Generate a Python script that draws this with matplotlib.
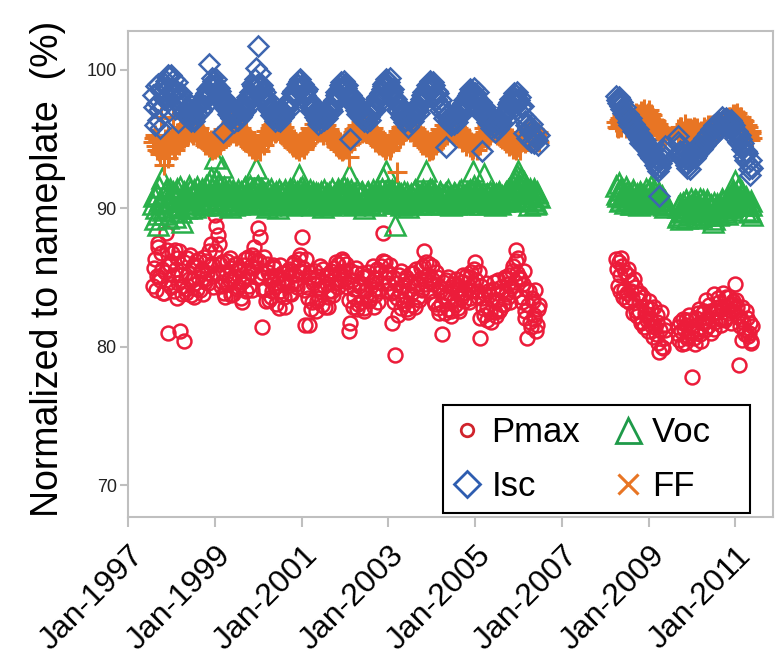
import numpy as np
import pandas as pd
import matplotlib
matplotlib.use('Agg')
import matplotlib.pyplot as plt
import matplotlib.dates as mdates
from matplotlib.lines import Line2D
from matplotlib.transforms import ScaledTranslation

# measurement dates: two readings a month (1st/15th and a week later), three periods
dates_a = pd.date_range('1997-08-01', '2006-06-16', freq='SMS')
dates_b = pd.date_range('2008-04-01', '2009-05-16', freq='SMS')
dates_c = pd.date_range('2009-09-01', '2011-05-16', freq='SMS')
week = pd.Timedelta(days=7)

# values, % of nameplate (one line per calendar year)
pmax_a = [84.4, 86.3, 85.1, 87.5, 84.8, 85.6, 83.9, 88.2, 81.0, 86.0,
          84.3, 85.2, 87.0, 86.4, 84.6, 81.1, 83.8, 80.4, 84.2, 86.4, 84.9, 83.7, 85.8, 84.5, 86.2, 85.0, 84.1, 85.6, 86.5, 84.7, 85.3, 86.9, 87.4, 85.1,
          89.5, 88.7, 88.1, 86.0, 84.7, 85.4, 83.6, 86.2, 84.9, 85.7, 83.8, 85.1, 86.0, 84.3, 85.5, 83.2, 84.8, 86.3, 85.1, 84.4, 85.8, 86.6, 87.2, 86.1,
          88.6, 87.9, 81.4, 85.3, 84.2, 86.0, 83.4, 85.1, 84.0, 85.7, 83.1, 84.6, 85.9, 83.7, 84.9, 82.9, 84.4, 85.6, 83.8, 85.2, 86.1, 84.5, 85.8, 86.3,
          87.9, 85.7, 81.6, 84.3, 81.6, 85.4, 83.2, 84.8, 82.6, 85.1, 83.5, 84.2, 85.6, 82.9, 84.5, 83.6, 85.2, 84.0, 85.7, 84.6, 86.0, 85.3, 84.8, 86.2,
          85.5, 84.3, 81.1, 81.7, 84.8, 83.6, 85.3, 82.7, 84.4, 83.2, 85.0, 82.8, 84.1, 85.4, 83.5, 84.7, 82.9, 84.2, 85.6, 84.0, 85.8, 88.2, 86.1, 85.4,
          84.6, 85.9, 81.7, 84.0, 79.4, 83.5, 85.2, 82.8, 84.3, 83.1, 85.0, 82.5, 84.6, 83.8, 85.3, 82.9, 84.5, 83.4, 85.7, 84.1, 86.9, 86.1, 85.2, 84.7,
          85.8, 84.5, 83.1, 85.0, 82.4, 84.3, 80.9, 83.6, 84.8, 82.7, 83.9, 82.2, 84.5, 83.0, 84.1, 82.6, 83.8, 84.7, 83.3, 85.1, 84.2, 83.5, 85.4, 84.6,
          86.1, 84.0, 85.4, 80.6, 83.5, 82.3, 84.6, 82.9, 83.7, 81.8, 84.2, 82.5, 83.4, 84.8, 82.7, 84.0, 83.1, 84.9, 83.6, 85.2, 84.4, 85.8, 84.7, 87.0,
          86.4, 84.9, 83.2, 85.5, 82.6, 80.6, 84.0, 81.4, 83.3, 82.0, 81.1, 82.7]
pmax_a2 = [85.7, 84.1, 87.2, 85.0, 86.8, 83.9, 85.4, 87.0, 84.6, 85.9,
           86.8, 84.0, 85.6, 83.5, 86.9, 85.2, 84.4, 86.1, 83.9, 85.3, 86.6, 84.8, 83.6, 85.9, 84.2, 86.3, 85.5, 83.8, 84.9, 86.2, 84.6, 85.8, 86.0, 84.3,
           86.9, 85.3, 87.4, 84.4, 86.1, 83.9, 85.2, 84.5, 86.4, 83.7, 84.9, 86.0, 84.2, 85.6, 83.5, 84.7, 85.9, 84.0, 86.5, 85.3, 84.1, 85.7, 86.4, 85.0,
           86.2, 85.0, 84.1, 86.5, 83.3, 85.4, 84.8, 83.6, 85.9, 84.3, 85.1, 82.8, 84.0, 85.3, 83.6, 84.8, 85.5, 83.9, 84.6, 86.0, 85.2, 84.3, 85.5, 86.6,
           85.4, 84.1, 86.3, 83.5, 85.0, 82.7, 84.6, 85.5, 83.3, 84.2, 85.8, 83.0, 84.4, 85.2, 82.9, 84.0, 85.5, 83.7, 84.9, 86.1, 84.3, 85.4, 86.3, 84.9,
           86.0, 84.7, 83.4, 85.5, 82.9, 84.2, 85.7, 83.1, 84.6, 85.3, 82.6, 84.0, 85.1, 83.3, 84.4, 85.8, 83.7, 84.9, 83.2, 85.4, 84.6, 86.2, 85.0, 84.1,
           85.3, 83.9, 85.0, 83.2, 84.6, 82.3, 84.0, 85.5, 83.4, 84.8, 82.7, 84.1, 85.3, 83.0, 84.4, 85.6, 83.6, 84.9, 84.2, 85.8, 84.5, 85.2, 86.0, 84.0,
           84.9, 83.3, 85.4, 82.8, 84.0, 83.1, 84.7, 82.4, 83.9, 85.0, 82.6, 84.3, 83.4, 84.9, 82.8, 84.2, 83.5, 85.2, 83.9, 84.6, 83.2, 85.0, 84.0, 85.6,
           84.8, 83.6, 82.1, 84.4, 82.8, 83.8, 81.9, 84.0, 82.5, 83.4, 84.7, 82.2, 83.9, 82.6, 84.3, 83.0, 85.0, 83.8, 84.5, 83.2, 85.5, 84.0, 86.2, 85.3,
           85.0, 83.6, 84.5, 82.1, 84.2, 83.0, 81.8, 83.5, 82.3, 84.1, 81.6, 83.0]
pmax_b = [86.3, 84.4, 85.2, 86.4, 83.6, 85.4, 83.9, 85.6, 84.7, 83.5, 84.9, 82.6, 83.8, 82.6, 81.7, 83.6, 82.4, 81.9,
          83.3, 82.1, 81.5, 82.9, 80.9, 81.8, 79.6, 82.5, 79.9, 81.2]
pmax_b2 = [85.6, 86.1, 84.0, 85.8, 84.1, 83.4, 85.2, 83.2, 84.0, 82.4, 84.3, 82.2, 83.4, 83.9, 81.8, 81.4, 82.9, 81.1,
           81.9, 82.7, 80.7, 81.4, 82.3, 80.3, 81.2, 80.0, 81.6, 80.6]
pmax_c = [81.4, 80.5, 81.1, 82.0, 80.3, 81.6, 80.8, 81.9,
          77.8, 80.6, 82.1, 81.3, 82.7, 80.4, 82.4, 81.7, 83.4, 81.5, 82.6, 82.0, 83.8, 81.8, 82.5, 83.2, 81.6, 82.8, 81.9, 83.6, 82.4, 83.0, 82.6, 83.3,
          84.5, 82.9, 78.7, 82.0, 80.5, 81.3, 82.6, 80.8, 81.7, 80.4]
pmax_c2 = [80.9, 81.8, 80.2, 81.3, 81.9, 80.6, 82.3, 81.1,
           81.5, 80.2, 81.0, 82.4, 80.9, 81.8, 82.6, 81.2, 82.1, 83.0, 81.0, 82.4, 81.3, 82.8, 83.5, 82.0, 82.7, 83.9, 82.1, 82.9, 83.6, 81.7, 83.1, 82.8,
           83.4, 82.2, 81.5, 82.9, 81.8, 80.9, 82.1, 81.0, 80.3, 81.5]

voc_a = [90.3, 89.2, 91.0, 88.8, 90.6, 92.2, 89.6, 91.3, 90.1, 90.8,
         90.5, 91.2, 89.4, 90.9, 90.2, 91.5, 89.0, 90.7, 91.1, 90.4, 91.6, 90.0, 90.8, 91.3, 90.3, 91.0, 90.6, 91.4, 90.2, 91.2, 90.7, 91.8, 92.2, 91.0,
         93.6, 92.1, 90.9, 91.5, 93.0, 90.6, 91.2, 90.3, 91.4, 90.5, 91.0, 90.2, 90.8, 91.3, 90.4, 91.1, 90.6, 91.5, 90.3, 90.9, 91.2, 90.5, 91.4, 92.9,
         91.6, 90.8, 91.3, 90.4, 91.0, 90.1, 90.7, 91.4, 90.3, 90.9, 91.2, 90.0, 90.6, 91.1, 90.4, 91.3, 90.5, 91.0, 90.2, 90.8, 91.3, 90.6, 91.1, 92.4,
         91.5, 90.6, 91.0, 90.3, 90.8, 91.3, 90.2, 90.9, 91.1, 90.4, 90.7, 91.2, 90.1, 90.8, 91.0, 90.3, 90.9, 91.4, 90.5, 90.8, 91.1, 90.4, 91.3, 90.7,
         90.9, 91.4, 92.4, 90.5, 91.0, 90.2, 90.8, 91.3, 90.4, 91.1, 90.6, 90.0, 90.7, 91.2, 90.3, 90.9, 91.0, 90.5, 91.3, 90.6, 90.9, 92.2, 91.2, 92.7,
         91.0, 90.6, 91.3, 90.4, 88.8, 90.9, 91.1, 90.2, 90.7, 91.2, 90.5, 90.1, 90.8, 91.0, 90.3, 91.3, 90.6, 90.9, 90.4, 91.1, 90.7, 92.7, 91.2, 90.8,
         91.3, 90.7, 91.0, 90.4, 90.9, 91.2, 90.3, 90.8, 91.1, 90.5, 90.9, 90.2, 90.7, 91.0, 90.4, 91.2, 90.6, 90.9, 90.3, 91.0, 90.7, 91.3, 90.5, 92.7,
         91.1, 90.6, 91.2, 90.3, 90.9, 92.5, 90.7, 91.0, 90.4, 90.8, 91.1, 90.2, 90.6, 91.0, 90.3, 90.9, 90.5, 91.2, 90.7, 91.4, 90.8, 91.6, 91.2, 92.1,
         92.7, 91.5, 90.8, 91.9, 90.5, 91.3, 90.2, 91.0, 90.6, 91.4, 90.4, 90.9]
voc_a2 = [90.9, 90.0, 89.6, 91.5, 90.4, 89.9, 91.1, 90.5, 89.3, 91.4,
          91.0, 89.8, 90.6, 91.4, 90.1, 89.7, 90.9, 91.2, 90.0, 90.7, 91.3, 90.4, 91.0, 90.1, 91.5, 90.6, 91.1, 90.3, 90.9, 91.6, 90.5, 91.0, 91.4, 90.7,
          91.3, 90.4, 91.8, 90.2, 91.0, 91.5, 90.6, 91.1, 90.1, 90.8, 91.3, 90.6, 91.0, 90.3, 91.2, 90.7, 91.4, 90.5, 91.0, 91.6, 90.4, 91.1, 90.8, 91.5,
          90.9, 91.4, 90.5, 91.1, 90.6, 91.3, 90.2, 90.8, 91.0, 90.5, 90.9, 91.3, 90.4, 90.8, 91.1, 90.3, 90.9, 91.4, 90.6, 91.0, 90.5, 91.2, 90.9, 91.4,
          90.8, 91.3, 90.5, 91.1, 90.4, 90.9, 91.2, 90.6, 90.3, 91.0, 90.5, 90.9, 91.3, 90.4, 90.7, 91.1, 90.2, 90.8, 91.0, 90.6, 91.4, 90.7, 90.9, 91.5,
          91.2, 90.6, 90.9, 91.3, 90.4, 91.0, 90.6, 90.3, 90.9, 91.2, 90.5, 90.8, 91.1, 90.4, 90.9, 91.3, 90.2, 90.7, 91.0, 90.8, 91.4, 90.6, 91.0, 91.3,
          90.7, 91.2, 90.4, 90.9, 91.3, 90.5, 90.8, 91.0, 90.3, 90.6, 91.1, 90.7, 90.4, 90.9, 91.2, 90.5, 91.0, 90.3, 90.8, 91.3, 90.6, 91.1, 90.9, 91.4,
          90.6, 91.1, 90.3, 90.8, 91.2, 90.5, 90.9, 91.0, 90.4, 91.3, 90.6, 90.8, 91.1, 90.3, 90.9, 90.6, 91.3, 90.4, 90.8, 91.1, 90.5, 90.9, 91.2, 91.6,
          90.8, 91.3, 90.5, 90.9, 91.1, 90.6, 90.3, 90.9, 91.2, 90.5, 90.8, 91.0, 90.4, 91.2, 90.7, 90.5, 91.0, 90.8, 91.3, 90.6, 91.1, 92.0, 91.5, 92.4,
          91.7, 92.2, 91.2, 90.7, 91.6, 90.9, 91.4, 90.6, 91.1, 90.3, 91.2, 90.8]
voc_b = [91.6, 90.9, 91.3, 90.6, 91.0, 90.4, 91.2, 90.7, 90.9, 90.3, 91.1, 90.5, 90.8, 90.2, 91.0, 90.6, 90.9, 90.4,
         91.3, 90.7, 91.1, 90.5, 91.5, 90.8, 91.0, 90.3, 90.7, 90.1]
voc_b2 = [91.0, 91.8, 90.5, 91.4, 90.8, 91.5, 90.6, 91.1, 90.3, 91.3, 90.7, 91.0, 90.4, 91.2, 90.6, 90.8, 91.4, 90.5,
          90.9, 91.6, 90.6, 91.2, 90.4, 91.0, 90.6, 90.9, 90.2, 90.5]
voc_c = [90.1, 89.5, 89.2, 90.4, 89.8, 90.6, 90.0, 89.6,
         90.3, 89.7, 90.5, 89.9, 90.2, 89.4, 90.6, 90.0, 89.8, 90.4, 89.5, 90.1, 89.2, 89.9, 90.3, 89.6, 90.0, 90.5, 89.7, 90.2, 90.8, 90.1, 90.6, 91.0,
         92.0, 90.9, 91.5, 90.6, 91.2, 90.3, 90.8, 90.2, 89.8, 90.5]
voc_c2 = [89.4, 90.3, 89.7, 89.9, 90.5, 89.3, 90.2, 90.7,
          89.9, 90.6, 89.3, 90.0, 90.7, 89.8, 89.5, 90.3, 90.6, 89.6, 90.2, 89.0, 90.4, 89.8, 89.5, 90.1, 90.7, 89.9, 90.4, 89.6, 90.1, 90.9, 91.3, 90.4,
          90.7, 91.4, 90.2, 91.0, 90.5, 89.9, 90.4, 89.7, 90.2, 89.5]

isc_a = [98.2, 96.0, 97.6, 99.0, 95.8, 98.4, 97.9, 99.2, 98.7, 99.5,
         99.6, 98.4, 97.2, 99.1, 96.2, 98.0, 97.6, 97.0, 97.8, 96.6, 97.1, 96.3, 97.0, 96.5, 97.4, 96.8, 97.6, 97.2, 98.1, 97.8, 98.6, 100.4, 98.9, 99.2,
         98.8, 99.3, 98.2, 98.5, 97.6, 95.5, 97.9, 97.1, 97.3, 96.6, 96.9, 96.2, 96.8, 96.4, 97.2, 96.7, 97.5, 97.0, 98.0, 97.4, 98.3, 99.0, 98.6, 100.1,
         101.7, 99.8, 98.9, 98.0, 98.4, 97.5, 97.8, 97.0, 97.3, 96.5, 96.9, 96.4, 96.7, 97.0, 96.6, 97.3, 97.5, 97.1, 97.9, 98.3, 98.1, 98.7, 98.9, 99.2,
         98.7, 99.0, 98.2, 98.6, 97.8, 97.3, 97.6, 96.9, 97.1, 96.4, 96.8, 96.2, 96.6, 96.9, 96.5, 97.1, 97.4, 97.0, 97.8, 98.2, 98.0, 98.6, 99.1, 98.8,
         99.0, 98.5, 98.3, 95.0, 97.9, 97.4, 97.6, 96.8, 97.2, 96.5, 96.9, 96.3, 96.7, 97.0, 96.4, 97.2, 97.5, 97.1, 98.0, 97.6, 98.4, 98.8, 99.1, 99.3,
         98.9, 99.4, 98.4, 98.0, 97.7, 97.2, 97.5, 96.6, 97.0, 96.2, 96.7, 95.9, 96.5, 96.8, 96.3, 97.0, 97.4, 96.9, 97.9, 98.2, 98.1, 98.6, 98.9, 99.2,
         98.8, 99.1, 98.2, 98.5, 97.6, 97.1, 97.3, 96.5, 94.4, 96.3, 96.6, 96.0, 96.4, 96.8, 96.2, 97.0, 97.3, 96.8, 97.8, 97.3, 98.2, 97.9, 98.4, 98.1,
         98.3, 97.8, 97.5, 96.9, 94.1, 97.1, 96.8, 96.2, 96.6, 95.8, 96.3, 95.5, 96.1, 95.7, 96.0, 96.6, 96.9, 96.4, 97.3, 97.7, 97.5, 98.0, 97.6, 98.2,
         97.6, 98.0, 96.8, 95.4, 96.3, 95.1, 95.7, 94.8, 95.3, 94.7, 95.0, 94.6]
isc_a2 = [97.3, 98.8, 96.4, 97.1, 98.6, 97.4, 99.0, 98.1, 99.6, 98.5,
          98.6, 99.3, 97.8, 98.5, 97.4, 98.3, 96.9, 97.5, 96.7, 97.3, 96.5, 96.9, 96.3, 97.1, 96.8, 97.5, 97.0, 97.8, 97.4, 98.3, 98.0, 98.8, 99.4, 98.7,
          99.0, 98.1, 98.7, 97.8, 98.0, 97.3, 97.6, 96.8, 97.0, 96.5, 96.6, 97.0, 96.4, 96.9, 96.6, 97.3, 97.1, 97.8, 97.6, 98.4, 98.1, 98.8, 99.3, 98.9,
          99.0, 98.5, 98.6, 97.7, 97.9, 97.2, 97.4, 96.7, 96.9, 96.3, 96.6, 96.9, 96.3, 96.8, 96.9, 97.5, 97.3, 97.9, 97.7, 98.5, 98.4, 99.0, 98.7, 99.3,
          98.9, 98.4, 98.5, 97.6, 97.8, 97.0, 97.3, 96.6, 96.9, 96.1, 96.5, 96.9, 96.4, 96.7, 96.8, 97.4, 97.2, 97.7, 97.6, 98.4, 98.3, 98.9, 98.6, 99.2,
          98.7, 98.9, 97.9, 98.2, 97.5, 97.9, 97.1, 97.4, 96.7, 96.9, 96.5, 96.8, 96.2, 96.6, 96.8, 97.3, 97.2, 97.9, 97.8, 98.3, 98.6, 99.0, 98.7, 98.9,
          99.1, 98.6, 98.6, 97.8, 97.9, 97.0, 97.3, 96.8, 96.8, 96.4, 96.5, 96.9, 96.2, 96.6, 96.7, 97.2, 97.1, 97.7, 97.6, 98.4, 98.4, 98.9, 98.6, 99.0,
          98.6, 98.9, 97.9, 98.3, 97.4, 97.8, 96.9, 97.1, 96.8, 96.5, 96.2, 96.7, 96.1, 96.6, 96.7, 97.2, 97.1, 97.6, 97.5, 98.0, 98.3, 98.6, 98.2, 98.7,
          98.0, 98.4, 97.2, 97.7, 96.8, 97.3, 96.5, 96.9, 96.1, 96.4, 95.9, 96.2, 95.8, 96.3, 96.2, 96.8, 96.7, 97.1, 97.5, 97.9, 97.8, 98.3, 97.9, 98.4,
          97.8, 97.3, 97.4, 96.6, 96.0, 95.8, 95.5, 96.1, 95.2, 95.6, 94.9, 95.3]
isc_b = [98.1, 97.6, 97.9, 97.2, 96.9, 97.3, 96.6, 96.2, 96.5, 95.9, 96.1, 95.4, 95.7, 95.0, 95.3, 94.6, 94.9, 94.2,
         94.5, 93.8, 94.1, 93.4, 93.7, 92.9, 90.9, 93.3, 93.9, 94.5]
isc_b2 = [97.8, 98.0, 97.4, 97.7, 97.0, 96.6, 96.8, 96.0, 96.3, 95.6, 95.8, 95.2, 95.4, 94.7, 95.0, 94.4, 94.6, 93.9,
          94.2, 93.6, 93.9, 93.1, 93.5, 92.7, 93.0, 93.6, 94.2, 93.7]
isc_c = [95.2, 94.6, 94.0, 93.5, 94.2, 93.1, 93.6, 92.8,
         93.6, 94.2, 93.8, 94.5, 94.1, 94.8, 94.4, 95.1, 94.7, 95.4, 95.0, 95.6, 95.3, 95.9, 95.5, 96.1, 95.8, 96.4, 96.0, 96.5, 96.1, 95.7, 96.2, 95.5,
         95.1, 95.6, 94.7, 95.0, 94.3, 93.8, 94.1, 93.3, 92.4, 93.0]
isc_c2 = [94.8, 94.1, 93.7, 93.9, 93.3, 92.9, 93.4, 93.9,
          94.0, 93.6, 94.3, 94.0, 94.6, 94.3, 95.0, 94.6, 95.3, 94.9, 95.7, 95.2, 96.0, 95.6, 96.2, 95.9, 96.6, 96.2, 96.3, 95.9, 95.8, 96.4, 95.9, 96.0,
          95.4, 94.8, 95.3, 94.5, 94.7, 93.5, 94.0, 92.8, 93.5, 92.9]

ff_a = [94.8, 95.3, 94.2, 95.0, 93.9, 94.6, 93.1, 94.4, 95.2, 94.0,
        94.6, 96.5, 94.2, 95.1, 94.8, 95.6, 95.0, 95.9, 95.4, 96.1, 95.5, 95.9, 95.3, 96.0, 95.6, 95.1, 95.4, 94.9, 95.2, 94.6, 95.0, 94.4, 94.9, 94.5,
        94.3, 94.9, 95.1, 94.6, 95.3, 95.7, 95.2, 95.9, 95.6, 96.2, 95.4, 95.8, 95.2, 95.9, 95.5, 95.0, 95.3, 94.8, 95.1, 94.5, 94.9, 94.3, 94.7, 94.2,
        94.6, 94.1, 94.8, 95.0, 95.3, 95.6, 95.4, 96.0, 95.6, 96.3, 95.5, 95.9, 95.4, 96.1, 95.6, 95.2, 95.4, 94.8, 95.1, 94.6, 95.0, 94.3, 94.7, 94.5,
        94.4, 94.9, 95.0, 94.7, 95.4, 95.8, 95.3, 96.1, 95.7, 96.3, 95.6, 96.0, 95.3, 95.8, 95.5, 95.1, 95.4, 94.9, 95.0, 94.5, 94.9, 94.3, 94.6, 94.2,
        94.5, 94.8, 93.7, 95.0, 95.3, 95.7, 95.4, 96.0, 95.6, 96.2, 95.5, 96.0, 95.4, 95.9, 95.6, 95.1, 95.3, 94.8, 95.2, 94.6, 94.9, 94.4, 94.7, 94.3,
        94.5, 94.2, 94.9, 95.1, 95.2, 92.6, 95.5, 95.9, 95.7, 96.4, 95.6, 96.0, 95.5, 96.1, 95.7, 95.2, 95.4, 94.9, 95.1, 94.6, 95.0, 94.4, 94.8, 94.3,
        94.6, 94.3, 95.0, 94.8, 95.4, 95.7, 95.3, 96.0, 95.8, 96.2, 95.5, 96.0, 95.4, 95.9, 95.5, 95.1, 95.3, 94.8, 95.0, 94.5, 94.9, 94.4, 94.8, 94.3,
        94.5, 94.2, 94.9, 95.2, 95.3, 95.8, 95.4, 96.0, 95.6, 96.3, 95.5, 95.9, 95.3, 95.8, 95.4, 95.0, 95.2, 94.7, 95.0, 94.5, 94.9, 94.3, 94.7, 94.4,
        94.6, 94.2, 94.9, 95.3, 95.1, 95.6, 95.4, 95.9, 95.2, 95.7, 95.0, 95.5]
ff_a2 = [95.1, 94.5, 94.9, 94.1, 96.6, 94.3, 95.0, 94.7, 93.6, 94.9,
         95.2, 94.3, 94.9, 95.4, 94.6, 95.2, 95.6, 95.1, 95.8, 95.3, 96.0, 95.4, 95.9, 95.5, 95.2, 95.8, 95.0, 95.3, 94.7, 95.1, 94.6, 94.8, 94.2, 94.7,
         94.7, 94.4, 94.8, 95.2, 94.9, 95.5, 95.1, 95.6, 95.3, 96.0, 95.6, 96.1, 95.7, 95.3, 95.8, 95.2, 94.9, 95.5, 94.7, 95.0, 94.5, 94.8, 94.1, 94.6,
         94.3, 94.7, 95.1, 94.6, 95.6, 95.1, 95.8, 95.2, 96.1, 95.4, 95.8, 96.2, 95.7, 95.3, 95.9, 95.0, 95.3, 94.7, 95.2, 94.4, 94.8, 94.5, 94.1, 94.8,
         94.7, 94.3, 94.6, 95.2, 95.0, 95.6, 95.1, 95.8, 95.4, 96.0, 95.5, 96.2, 95.7, 96.0, 95.4, 95.7, 95.2, 95.0, 94.7, 95.1, 94.4, 94.8, 94.1, 94.6,
         94.3, 94.6, 95.1, 94.7, 95.5, 95.0, 95.8, 95.2, 95.9, 95.4, 96.1, 95.6, 96.2, 95.7, 95.3, 95.8, 95.0, 95.4, 94.7, 95.0, 94.5, 94.9, 94.2, 94.6,
         94.7, 94.4, 94.7, 95.3, 94.9, 95.6, 95.1, 95.7, 95.3, 96.1, 95.8, 96.2, 95.6, 95.9, 95.4, 95.7, 95.1, 95.3, 94.8, 95.2, 94.6, 94.9, 94.1, 94.6,
         94.2, 94.8, 94.6, 95.2, 95.1, 95.5, 95.0, 95.7, 95.3, 95.9, 95.6, 96.1, 95.7, 95.3, 95.8, 95.2, 95.6, 94.9, 95.3, 94.7, 95.1, 94.6, 94.2, 94.7,
         94.7, 94.5, 94.6, 95.0, 95.1, 95.5, 95.0, 95.7, 95.3, 96.0, 95.7, 96.1, 95.6, 95.2, 95.7, 95.1, 95.5, 94.8, 95.3, 94.6, 95.1, 94.6, 94.2, 94.8,
         94.4, 94.8, 95.1, 94.7, 95.4, 94.9, 95.6, 95.1, 95.6, 94.9, 95.3, 94.8]
ff_b = [96.2, 95.8, 96.5, 95.9, 96.3, 96.7, 96.0, 96.4, 96.8, 96.1, 96.5, 96.9, 96.3, 96.6, 97.0, 96.4, 96.8, 96.2,
        97.1, 96.5, 96.7, 96.0, 96.3, 95.6, 95.9, 95.3, 95.6, 95.1]
ff_b2 = [95.9, 96.4, 96.0, 96.7, 96.2, 95.8, 96.6, 96.2, 96.9, 96.3, 96.7, 96.1, 96.8, 96.4, 96.6, 97.2, 96.5, 96.9,
         96.3, 96.8, 96.1, 96.4, 95.8, 96.1, 95.4, 95.8, 95.0, 95.4]
ff_c = [95.7, 95.2, 95.9, 95.4, 96.1, 95.6, 95.3, 95.8,
        95.4, 95.9, 95.2, 95.7, 95.1, 95.6, 95.3, 95.8, 95.5, 96.0, 95.4, 95.9, 95.6, 96.1, 95.7, 96.2, 95.8, 96.3, 95.9, 96.5, 96.1, 96.6, 96.3, 96.8,
        96.4, 96.9, 96.2, 96.6, 95.8, 96.3, 95.5, 95.9, 94.9, 95.4]
ff_c2 = [95.4, 95.9, 95.1, 95.6, 95.3, 95.8, 95.5, 95.2,
         95.7, 95.3, 95.8, 95.0, 95.5, 95.2, 95.9, 95.4, 95.7, 95.3, 96.0, 95.6, 95.9, 95.5, 96.3, 95.9, 96.0, 96.4, 96.2, 96.0, 96.6, 96.3, 96.7, 96.5,
         96.8, 96.3, 96.6, 96.1, 96.4, 95.7, 96.0, 95.2, 95.6, 95.1]

dates = (dates_a.append(dates_a + week).append(dates_b).append(dates_b + week)
         .append(dates_c).append(dates_c + week))
pmax = pmax_a + pmax_a2 + pmax_b + pmax_b2 + pmax_c + pmax_c2
voc = voc_a + voc_a2 + voc_b + voc_b2 + voc_c + voc_c2
isc = isc_a + isc_a2 + isc_b + isc_b2 + isc_c + isc_c2
ff = ff_a + ff_a2 + ff_b + ff_b2 + ff_c + ff_c2
for s in (pmax, voc, isc, ff):
    assert len(s) == len(dates), (len(s), len(dates))

red = '#EC1C3A'
green = '#29B04A'
blue = '#3E66B0'
orange = '#E87524'
font = ['Liberation Sans', 'DejaVu Sans']

fig = plt.figure(figsize=(7.8, 6.55), dpi=100)
ax = fig.add_axes([0.164, 0.2107, 0.827, 0.742])

ax.plot(dates, pmax, ls='none', marker='o', ms=10, mfc='none', mec=red, mew=1.8)
ax.plot(dates, voc, ls='none', marker='^', ms=14, mfc='none', mec=green, mew=1.8)
ax.plot(dates, ff, ls='none', marker='+', ms=14, mec=orange, mew=2.2)
ax.plot(dates, isc, ls='none', marker='D', ms=10.5, mfc='none', mec=blue, mew=1.8)

ax.set_xlim(pd.Timestamp('1997-01-01'), pd.Timestamp('2011-11-13'))
ax.set_ylim(67.7, 102.8)
ax.set_yticks([70, 80, 90, 100])
ax.set_xticks(pd.date_range('1997-01-01', '2011-01-01', freq='2YS'))
ax.xaxis.set_major_formatter(mdates.DateFormatter('%b-%Y'))

for sp in ax.spines.values():
    sp.set_color('#BFBFBF')
    sp.set_linewidth(1.5)
ax.tick_params(axis='both', color='#BFBFBF', width=1.5, direction='out')
ax.tick_params(axis='y', length=6, pad=2, labelsize=13, labelcolor='#222222')
ax.tick_params(axis='x', length=7, pad=10, labelsize=23)
offset = ScaledTranslation(0.22, 0, fig.dpi_scale_trans)
for lab in ax.get_yticklabels():
    lab.set_family(font)
for lab in ax.get_xticklabels():
    lab.set_family(font)
    lab.set_rotation(45)
    lab.set_ha('right')
    lab.set_transform(lab.get_transform() + offset)

ax.set_ylabel('Normalized to nameplate  (%)', fontsize=27, family=font)
ax.yaxis.set_label_coords(-0.096, 0.51)

handles = [Line2D([], [], ls='none', marker='o', ms=9, mfc='none', mec='#D0242C', mew=2),
           Line2D([], [], ls='none', marker='D', ms=13, mfc='none', mec='#2E5DB0', mew=2),
           Line2D([], [], ls='none', marker='^', ms=18, mfc='none', mec='#1E9A49', mew=2),
           Line2D([], [], ls='none', marker='x', ms=14, mec=orange, mew=2.2)]
# trailing spaces keep the second column where it sits in the original box
leg = ax.legend(handles, ['Pmax', 'Isc', 'Voc   ', 'FF'], ncol=2, loc='lower left', mode='expand',
                bbox_to_anchor=(0.488, 0.008, 0.476, 0.228), prop={'family': font, 'size': 25},
                frameon=True, fancybox=False, framealpha=1, edgecolor='black',
                borderpad=0.3, labelspacing=0.6, handlelength=0.8, handletextpad=0.3,
                borderaxespad=0)
leg.get_frame().set_linewidth(1.5)

fig.savefig('out.png', dpi=100)
